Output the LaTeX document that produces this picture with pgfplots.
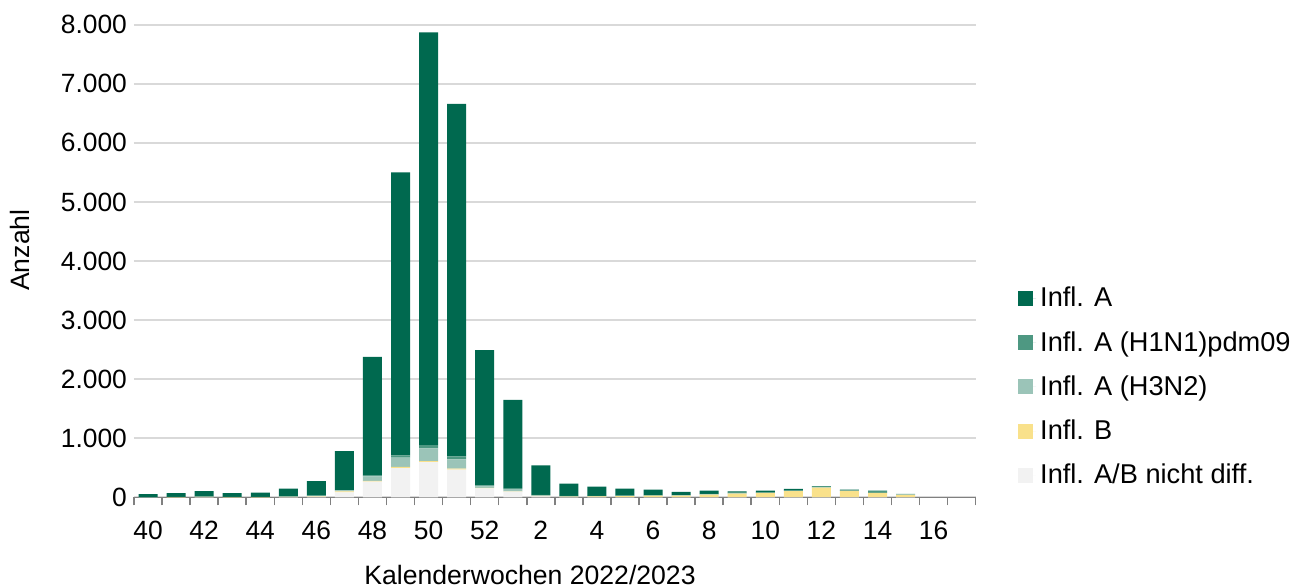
\documentclass[border=0pt]{standalone}
\usepackage{fontspec}
\setmainfont{Liberation Sans}
\usepackage{pgfplots}
\pgfplotsset{compat=1.18}
\usepackage{pgfplotstable}
\definecolor{cA}{HTML}{00694F}
\definecolor{cH1}{HTML}{4E9882}
\definecolor{cH3}{HTML}{9BC4B8}
\definecolor{cB}{HTML}{F9E18B}
\definecolor{cND}{HTML}{F2F2F2}
\definecolor{gridgray}{HTML}{D9D9D9}
\definecolor{axgray}{HTML}{808080}
\pgfplotstableread{
x nd B H3 H1 A
0 0 0 2 2 51
1 0 2 3 2 63
2 5 3 3 2 92
3 0 2 3 2 63
4 0 2 3 2 71
5 5 3 5 2 130
6 10 10 5 3 247
7 85 15 17 5 658
8 265 15 73 12 2010
9 495 18 157 40 4790
10 597 17 214 56 6986
11 467 17 158 51 5967
12 150 8 28 17 2290
13 95 5 40 15 1495
14 15 10 10 5 500
15 5 8 3 8 207
16 5 10 3 5 157
17 5 15 3 5 119
18 5 22 3 8 92
19 5 25 3 5 52
20 5 40 3 10 57
21 3 60 3 20 15
22 3 70 2 5 33
23 3 103 2 5 28
24 3 160 3 22 2
25 3 105 3 3 16
26 3 70 3 35 2
27 3 37 14 2 0
28 0 0 0 0 0
29 0 0 0 0 0
}\data
\begin{document}
\begin{tikzpicture}
\useasboundingbox (-67pt,-45.35pt) rectangle (581pt,248.65pt);
\begin{axis}[
  scale only axis, width=420.85pt, height=236.3pt,
  xmin=-0.5, xmax=29.5, ymin=0, ymax=8000,
  ybar stacked, bar width=9.5pt,
  axis x line*=bottom, axis y line*=left,
  y axis line style={draw=none},
  x axis line style={draw=axgray, line width=0.75pt},
  ymajorgrids, grid style={draw=gridgray, line width=1.1pt},
  ytick={0,1000,...,8000},
  yticklabels={0,1.000,2.000,3.000,4.000,5.000,6.000,7.000,8.000},
  ytick style={draw=none},
  xtick={0,2,...,28},
  xticklabels={40,42,44,46,48,50,52,2,4,6,8,10,12,14,16},
  major x tick style={draw=none},
  minor xtick={-0.5,0.5,...,29.5},
  minor x tick style={draw=axgray, line width=0.75pt},
  tick align=outside, minor tick length=4pt, major tick length=0pt,
  tick label style={font=\fontsize{13.2}{15.5}\selectfont},
  label style={font=\fontsize{13.3}{15.5}\selectfont},
  xticklabel style={yshift=-8.5pt},
  xlabel={Kalenderwochen 2022/2023},
  xlabel style={at={(axis description cs:0.4705,-0.1855)}, anchor=base},
  ylabel={Anzahl},
  ylabel style={at={(axis description cs:-0.1354,0.523)}, anchor=center},
  legend style={at={(1.05,0.2335)}, anchor=west, draw=none, fill=none,
    font=\fontsize{13.6}{16}\selectfont, row sep=6.75pt, inner sep=0pt,
    nodes={inner sep=2pt}},
  legend cell align=left,
  reverse legend,
  legend image code/.code={\path (0pt,0pt) -- (9pt,0pt);\fill[#1] (0pt,-3.75pt) rectangle (7.5pt,3.75pt);},
]
\addplot[fill=cND, draw=none] table[x=x,y=nd]{\data};
\addplot[fill=cB, draw=none] table[x=x,y=B]{\data};
\addplot[fill=cH3, draw=none] table[x=x,y=H3]{\data};
\addplot[fill=cH1, draw=none] table[x=x,y=H1]{\data};
\addplot[fill=cA, draw=none] table[x=x,y=A]{\data};
\legend{Infl. A/B nicht diff.,Infl. B,Infl. A (H3N2),Infl. A (H1N1)pdm09,Infl. A}
\end{axis}
\end{tikzpicture}
\end{document}
